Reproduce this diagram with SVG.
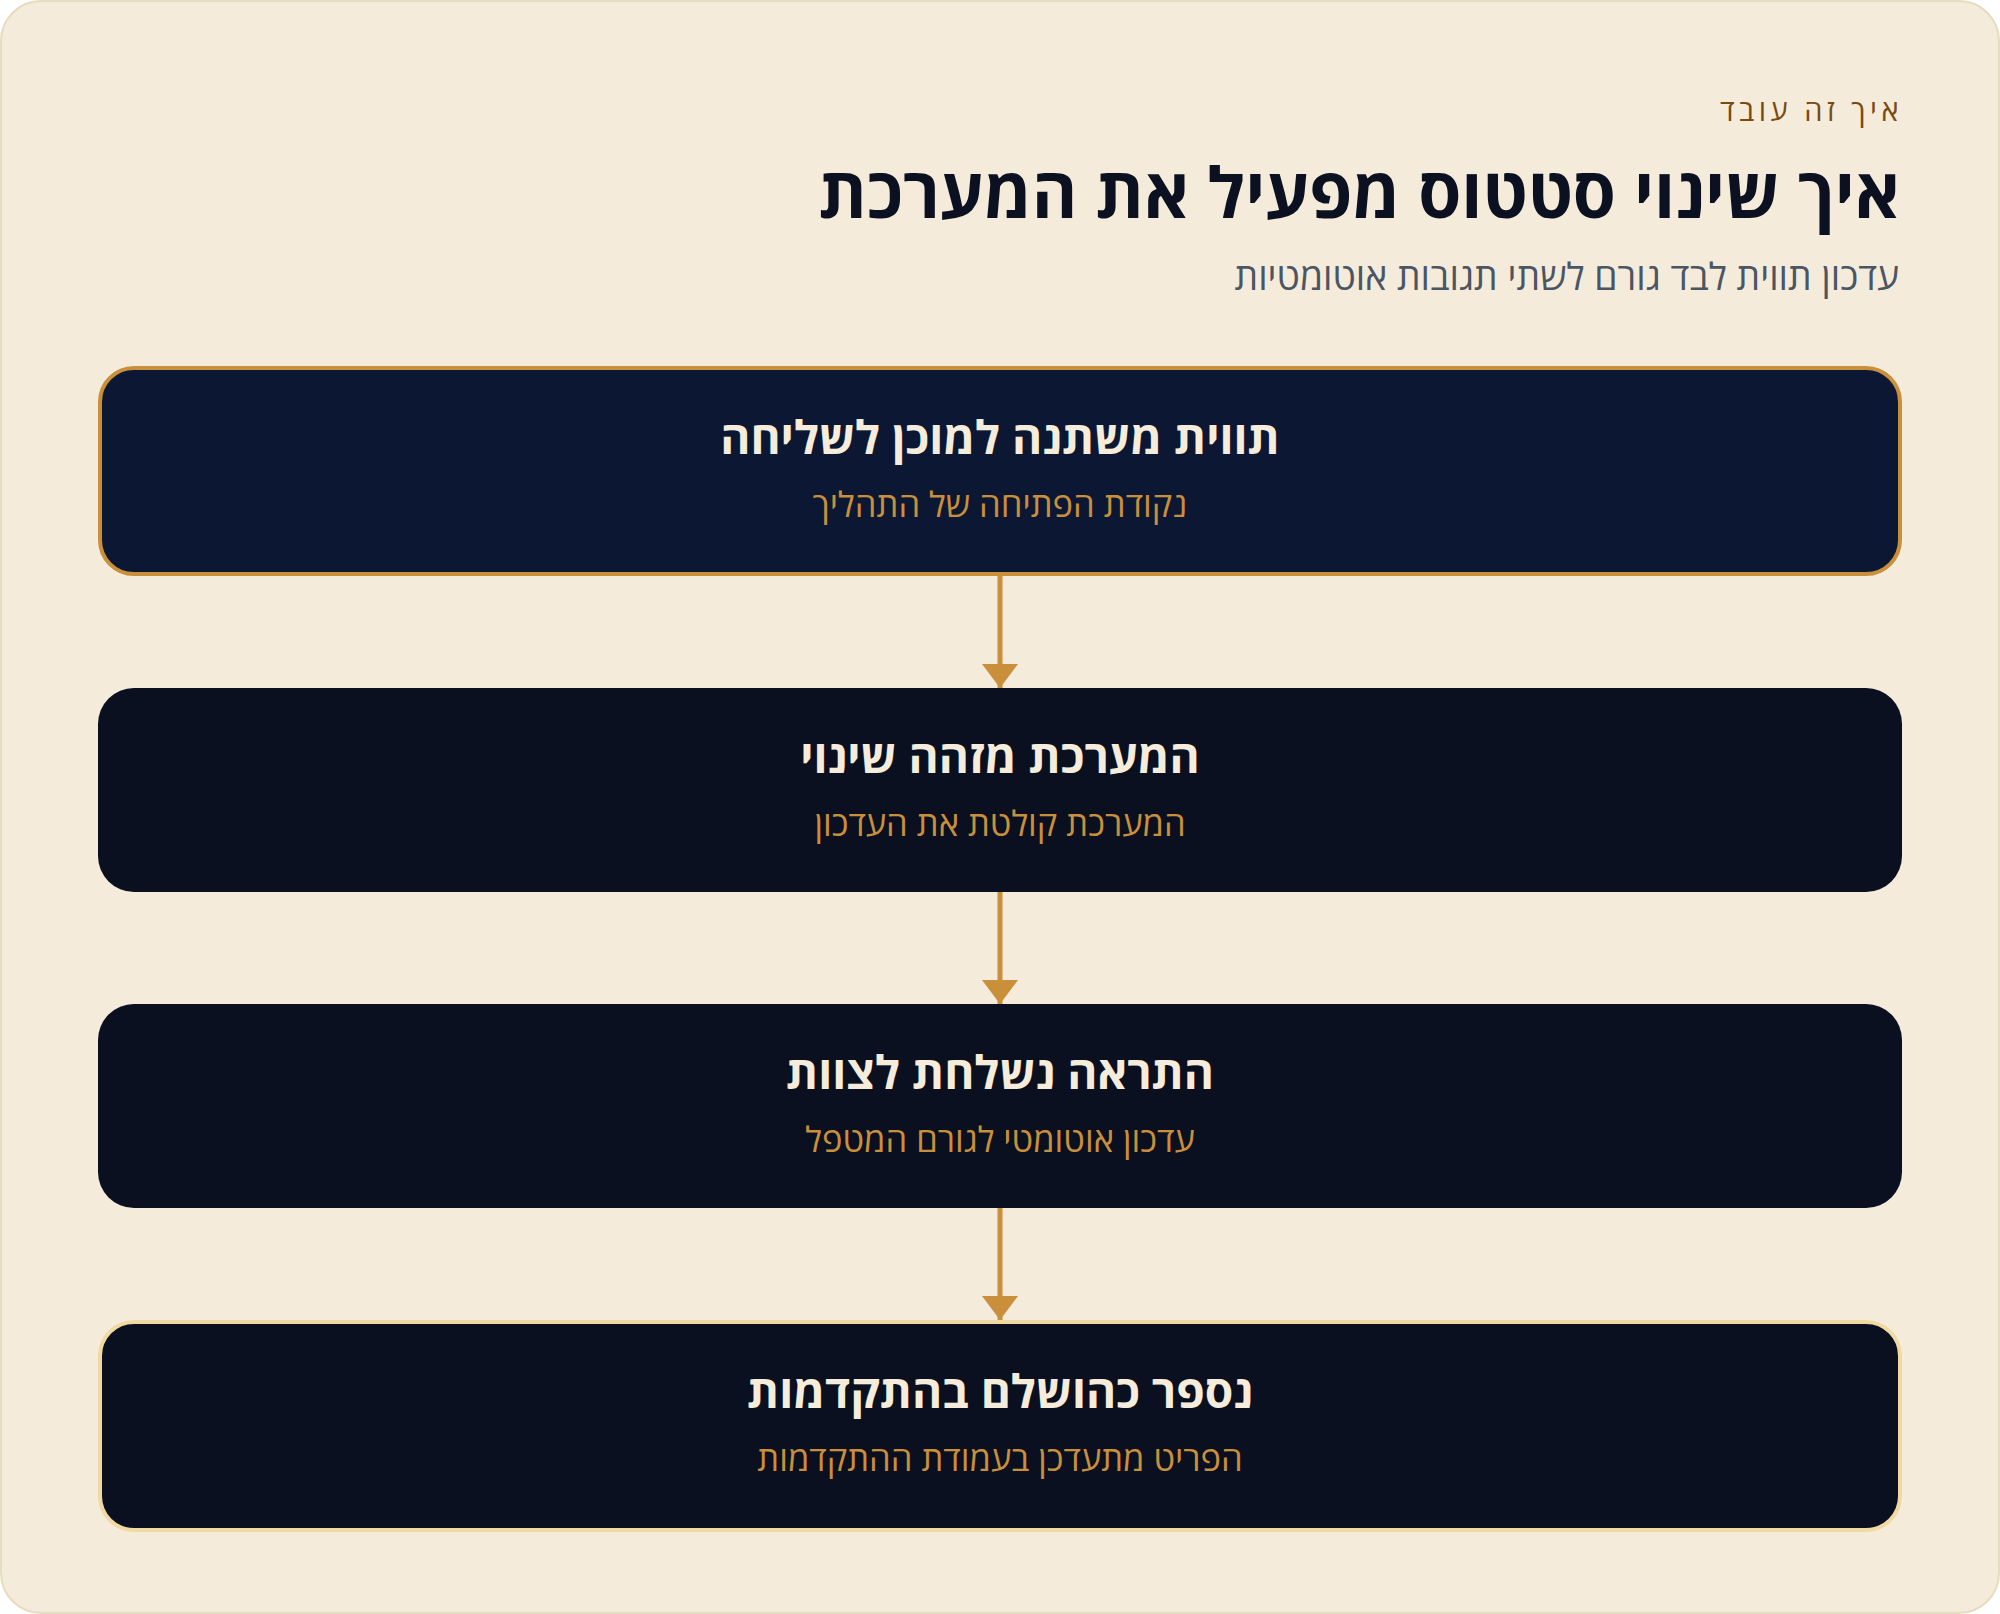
<svg xmlns="http://www.w3.org/2000/svg" width="2000" height="1614" viewBox="0 0 2000 1614">
  <defs>
    <style>
      .t { font-family: "Noto Sans", "Open Sans", "DejaVu Sans", sans-serif; }
      .eyebrow { font-size: 29px; fill: #7a4a12; letter-spacing: 4.5px; }
      .h1 { font-size: 69.5px; font-weight: 700; fill: #0b1120; }
      .sub { font-size: 37.3px; fill: #4b5563; }
      .nt { font-size: 46px; font-weight: 700; fill: #f5ecdc; }
      .ns { font-size: 34.5px; fill: #c98f3b; }
      .conn line { stroke: #c98f3b; stroke-width: 5; }
      .conn polygon { fill: #c98f3b; }
    </style>
  </defs>
  <rect x="1" y="1" width="1998" height="1612" rx="40" fill="#f4ebdb" stroke="#e6dcc0" stroke-width="2"/>
  <g id="header" class="t">
    <text class="eyebrow" x="1903" y="121" text-anchor="end">איך זה עובד</text>
    <text class="h1" x="1900" y="218" text-anchor="end">איך שינוי סטטוס מפעיל את המערכת</text>
    <text class="sub" x="1899" y="290" text-anchor="end">עדכון תווית לבד גורם לשתי תגובות אוטומטיות</text>
  </g>
  <g id="connectors" class="conn">
    <line x1="1000" y1="576" x2="1000" y2="688"/>
    <polygon points="982,664 1018,664 1000,688"/>
    <line x1="1000" y1="892" x2="1000" y2="1004"/>
    <polygon points="982,980 1018,980 1000,1004"/>
    <line x1="1000" y1="1208" x2="1000" y2="1320"/>
    <polygon points="982,1296 1018,1296 1000,1320"/>
  </g>
  <g id="node1" class="t">
    <rect x="100" y="368" width="1800" height="206" rx="34" fill="#0c1833" stroke="#c98f3b" stroke-width="4"/>
    <text class="nt" x="1000" y="454" text-anchor="middle">תווית משתנה למוכן לשליחה</text>
    <text class="ns" x="1000" y="517" text-anchor="middle">נקודת הפתיחה של התהליך</text>
  </g>
  <g id="node2" class="t">
    <rect x="98" y="688" width="1804" height="204" rx="36" fill="#0a1020"/>
    <text class="nt" x="1000" y="773" text-anchor="middle">המערכת מזהה שינוי</text>
    <text class="ns" x="1000" y="836" text-anchor="middle">המערכת קולטת את העדכון</text>
  </g>
  <g id="node3" class="t">
    <rect x="98" y="1004" width="1804" height="204" rx="36" fill="#0a1020"/>
    <text class="nt" x="1000" y="1089" text-anchor="middle">התראה נשלחת לצוות</text>
    <text class="ns" x="1000" y="1152" text-anchor="middle">עדכון אוטומטי לגורם המטפל</text>
  </g>
  <g id="node4" class="t">
    <rect x="100" y="1322" width="1800" height="208" rx="34" fill="#0a1020" stroke="#f1d9a2" stroke-width="4"/>
    <text class="nt" x="1000" y="1408" text-anchor="middle">נספר כהושלם בהתקדמות</text>
    <text class="ns" x="1000" y="1471" text-anchor="middle">הפריט מתעדכן בעמודת ההתקדמות</text>
  </g>
</svg>
